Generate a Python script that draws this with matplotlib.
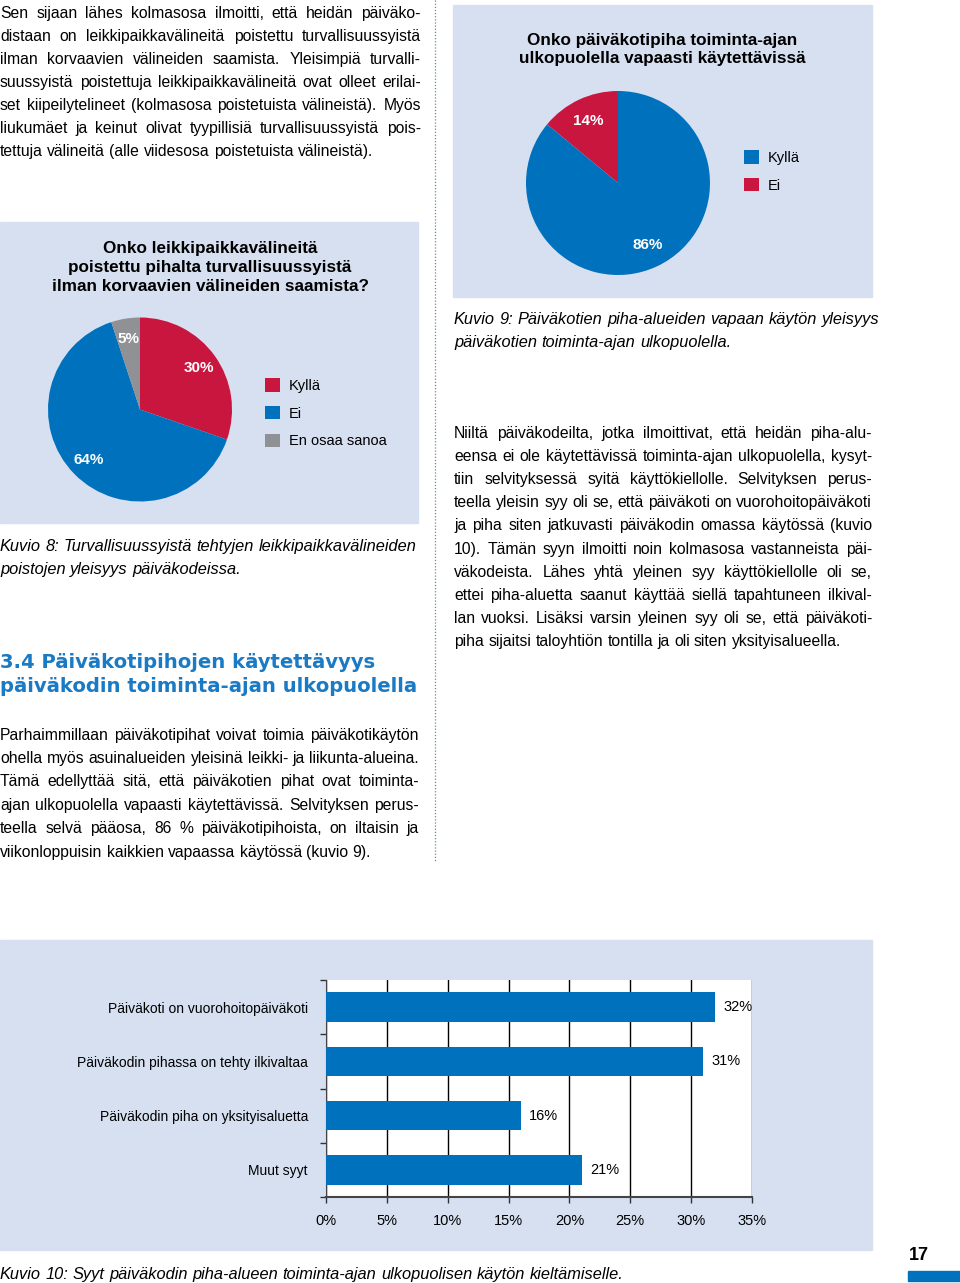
import matplotlib
matplotlib.use("Agg")
import matplotlib.pyplot as plt
import numpy as np
from matplotlib.patches import Rectangle
from matplotlib.lines import Line2D

plt.rcParams['font.family'] = ['Liberation Sans', 'DejaVu Sans']

# ---- data ----
pie8_labels = ['Kyllä', 'Ei', 'En osaa sanoa']
pie8_values = [30, 64, 5]
pie9_labels = ['Ei', 'Kyllä']
pie9_values = [14, 86]
bar_categories = ['Päiväkoti on vuorohoitopäiväkoti',
                  'Päiväkodin pihassa on tehty ilkivaltaa',
                  'Päiväkodin piha on yksityisaluetta',
                  'Muut syyt']
bar_values = [32, 31, 16, 21]
bar_ticks = [0, 5, 10, 15, 20, 25, 30, 35]

BLUE = '#0071bc'
RED = '#c8163f'
GRAY = '#8f9194'
PANEL = '#d6e0f1'
HEAD_BLUE = '#1a7ac4'
BODY = 11.3
CAP = 11.8

W, H = 960, 1283
fig = plt.figure(figsize=(W / 100, H / 100), dpi=100)
renderer = fig.canvas.get_renderer()


def fx(x):
    return x / W


def fy(y):
    return 1 - y / H


def rect(x, y, w, h):
    return [x / W, 1 - (y + h) / H, w / W, h / H]


def panel(x, y, w, h):
    fig.add_artist(Rectangle((x / W, 1 - (y + h) / H), w / W, h / H,
                             transform=fig.transFigure, color=PANEL, zorder=0))


def justify(lines, x0, x1, y0, step, size=BODY, style='normal', justify_all=True):
    px = size * 100 / 72
    for i, line in enumerate(lines):
        base = y0 + i * step + 0.36 * px
        words = line.split()
        texts = [fig.text(0, fy(base), w, fontsize=size, style=style,
                          va='baseline') for w in words]
        widths = [t.get_window_extent(renderer).width for t in texts]
        natural = 0.278 * px
        last = i == len(lines) - 1
        if last or len(words) == 1 or not justify_all:
            gap = natural
        else:
            gap = max((x1 - x0 - sum(widths)) / (len(words) - 1), natural * 0.5)
        x = x0
        for t, w in zip(texts, widths):
            t.set_x(fx(x))
            x += w + gap


# ---- running text ----
top_text = [
    "Sen sijaan lähes kolmasosa ilmoitti, että heidän päiväko-",
    "distaan on leikkipaikkavälineitä poistettu turvallisuussyistä",
    "ilman korvaavien välineiden saamista. Yleisimpiä turvalli-",
    "suussyistä poistettuja leikkipaikkavälineitä ovat olleet erilai-",
    "set kiipeilytelineet (kolmasosa poistetuista välineistä). Myös",
    "liukumäet ja keinut olivat tyypillisiä turvallisuussyistä pois-",
    "tettuja välineitä (alle viidesosa poistetuista välineistä).",
]
justify(top_text, 0, 421, 12, 23)

left_text = [
    "Parhaimmillaan päiväkotipihat voivat toimia päiväkotikäytön",
    "ohella myös asuinalueiden yleisinä leikki- ja liikunta-alueina.",
    "Tämä edellyttää sitä, että päiväkotien pihat ovat toiminta-",
    "ajan ulkopuolella vapaasti käytettävissä. Selvityksen perus-",
    "teella selvä pääosa, 86 % päiväkotipihoista, on iltaisin ja",
    "viikonloppuisin kaikkien vapaassa käytössä (kuvio 9).",
]
justify(left_text, 0, 419, 734, 23.4)

right_text = [
    "Niiltä päiväkodeilta, jotka ilmoittivat, että heidän piha-alu-",
    "eensa ei ole käytettävissä toiminta-ajan ulkopuolella, kysyt-",
    "tiin selvityksessä syitä käyttökiellolle. Selvityksen perus-",
    "teella yleisin syy oli se, että päiväkoti on vuorohoitopäiväkoti",
    "ja piha siten jatkuvasti päiväkodin omassa käytössä (kuvio",
    "10). Tämän syyn ilmoitti noin kolmasosa vastanneista päi-",
    "väkodeista. Lähes yhtä yleinen syy käyttökiellolle oli se,",
    "ettei piha-aluetta saanut käyttää siellä tapahtuneen ilkival-",
    "lan vuoksi. Lisäksi varsin yleinen syy oli se, että päiväkoti-",
    "piha sijaitsi taloyhtiön tontilla ja oli siten yksityisalueella.",
]
justify(right_text, 454, 872, 432, 23.2)

# captions
justify(["Kuvio 8: Turvallisuussyistä tehtyjen leikkipaikkavälineiden",
         "poistojen yleisyys päiväkodeissa."], 0, 419, 545, 23.5,
        size=CAP, style='italic', justify_all=False)
justify(["Kuvio 9: Päiväkotien piha-alueiden vapaan käytön yleisyys",
         "päiväkotien toiminta-ajan ulkopuolella."], 454, 872, 318, 23.5,
        size=CAP, style='italic', justify_all=False)
justify(["Kuvio 10: Syyt päiväkodin piha-alueen toiminta-ajan "
         "ulkopuolisen käytön kieltämiselle."], 0, 640, 1273, 23,
        size=CAP, style='italic', justify_all=False)

# heading
for i, line in enumerate(["3.4 Päiväkotipihojen käytettävyys",
                          "päiväkodin toiminta-ajan ulkopuolella"]):
    fig.text(fx(0), fy(663 + 23 * i), line, fontsize=14.1, fontweight='bold',
             color=HEAD_BLUE, va='center', family='DejaVu Sans')

# dotted column separator
fig.add_artist(Line2D([fx(435), fx(435)], [fy(0), fy(862)], transform=fig.transFigure,
                      linestyle=(0, (1, 1.5)), color='#5f8f9a', linewidth=0.9))

# page number
fig.text(fx(919), fy(1256), "17", fontsize=13, fontweight='bold', ha='center',
         va='center')
fig.add_artist(Rectangle((fx(908), fy(1281)), 52 / W, 10 / H,
                         transform=fig.transFigure, color=BLUE))


# ---- pies ----
def pie_panel(labels, values, colors, cx, cy, r, counterclock, label_dist,
              legend_order, leg_x, leg_y):
    ax = fig.add_axes(rect(cx - r, cy - r, 2 * r, 2 * r))
    wedges, _ = ax.pie(values, colors=colors, startangle=90,
                       counterclock=counterclock,
                       wedgeprops=dict(linewidth=0))
    ax.set_xlim(-1, 1)
    ax.set_ylim(-1, 1)
    ax.set_aspect('equal')
    ax.axis('off')
    for w, v in zip(wedges, values):
        mid = np.deg2rad((w.theta1 + w.theta2) / 2)
        ax.text(label_dist * np.cos(mid), label_dist * np.sin(mid), f"{v}%",
                color='white', fontsize=11, fontweight='bold',
                ha='center', va='center')
    handles = [wedges[i] for i in legend_order]
    names = [labels[i] for i in legend_order]
    fig.legend(handles, names, loc='upper left',
               bbox_to_anchor=(fx(leg_x), fy(leg_y)), frameon=False,
               fontsize=10.5, handlelength=1.05, handleheight=1.05,
               handletextpad=0.6, labelspacing=0.9, borderpad=0,
               borderaxespad=0)
    return ax


# Kuvio 9 panel
panel(453, 5, 419, 292)
fig.text(fx(662), fy(40), "Onko päiväkotipiha toiminta-ajan", fontsize=12.3,
         fontweight='bold', ha='center', va='center')
fig.text(fx(662), fy(59), "ulkopuolella vapaasti käytettävissä", fontsize=12.3,
         fontweight='bold', ha='center', va='center')
pie_panel(pie9_labels, pie9_values, [RED, BLUE], 618, 183, 92, True, 0.75,
          [1, 0], 744, 150)

# Kuvio 8 panel
panel(0, 222, 418, 301)
for i, line in enumerate(["Onko leikkipaikkavälineitä",
                          "poistettu pihalta turvallisuussyistä",
                          "ilman korvaavien välineiden saamista?"]):
    fig.text(fx(210), fy(248 + 19.3 * i), line, fontsize=12.3,
             fontweight='bold', ha='center', va='center')
pie_panel(pie8_labels, pie8_values, [RED, BLUE, GRAY], 140, 409.5, 92, False,
          0.78, [0, 1, 2], 265, 378)

# ---- bar chart ----
panel(0, 940, 872, 310)
ax = fig.add_axes(rect(326, 980, 426, 217))
ax.set_facecolor('white')
ypos = list(range(len(bar_categories)))
bars = ax.barh(ypos, bar_values, height=0.54, color=BLUE, zorder=3)
ax.set_xlim(0, 35)
ax.set_ylim(3.5, -0.5)
ax.set_xticks(bar_ticks)
ax.set_xticklabels([f"{t}%" for t in bar_ticks], fontsize=10.5)
ax.set_yticks(ypos)
ax.set_yticklabels(bar_categories, fontsize=10)
ax.set_yticks([-0.5, 0.5, 1.5, 2.5, 3.5], minor=True)
ax.tick_params(axis='y', which='major', length=0, pad=13)
ax.tick_params(axis='y', which='minor', length=4, width=1, color='#333333')
ax.tick_params(axis='x', length=4, width=1, color='#333333', pad=8)
ax.grid(axis='x', color='black', linewidth=1, zorder=1)
for s in ['top', 'right']:
    ax.spines[s].set_visible(False)
ax.spines['left'].set_color('#444444')
ax.spines['bottom'].set_color('#444444')
ax.spines['bottom'].set_linewidth(1.5)
ax.bar_label(bars, labels=[f"{v}%" for v in bar_values], padding=6,
             fontsize=10.5)

fig.savefig("out.png", dpi=100, facecolor='white')
